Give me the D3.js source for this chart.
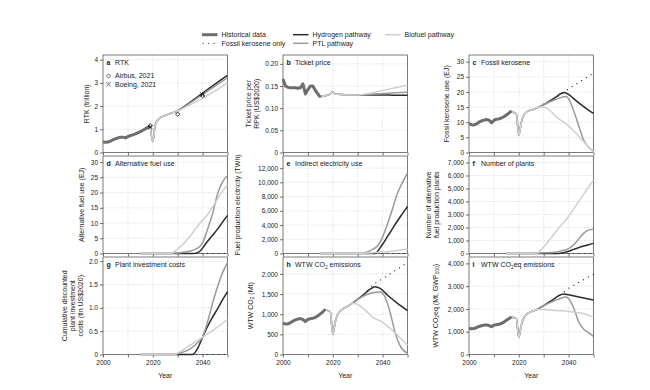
<!DOCTYPE html>
<html><head><meta charset="utf-8">
<script src="https://cdn.jsdelivr.net/npm/d3@7"></script>
<style>body{margin:0;background:#fff} text{font-family:"Liberation Sans",Arial,sans-serif;fill:#222}</style>
</head><body><svg id="c" width="650" height="390"></svg>
<script>
// ---------------- DATA ----------------
const histYears = [2000,2001,2002,2003,2004,2005,2006,2007,2008,2009,2010,2011,2012,2013,2014,2015,2016,2017,2018,2019];
const seriesNames = ["Historical data","Fossil kerosene only","Hydrogen pathway","PTL pathway","Biofuel pathway"];
const yearTickLabels = [2000,2020,2040];

// a RTK (trillion)
const rtkHist = [0.45,0.44,0.45,0.49,0.55,0.59,0.63,0.66,0.66,0.63,0.69,0.73,0.76,0.80,0.85,0.90,0.96,1.02,1.08,1.12];
const rtkCommonYears = [2019,2020,2021,2022,2023,2025,2027,2030];
const rtkCommon = [1.12,0.47,1.2,1.4,1.5,1.6,1.68,1.8];
const rtkPathYears = [2030,2035,2040,2045,2050];
const rtkHydrogen = [1.8,2.17,2.56,2.95,3.32];
const rtkPTL = [1.8,2.14,2.5,2.86,3.22];
const rtkBiofuel = [1.8,2.05,2.33,2.65,3.0];
const airbusYears = [2019,2030,2040];
const airbus = [1.15,1.65,2.45];
const boeingYears = [2019,2040];
const boeing = [1.1,2.5];

// b Ticket price
const priceHist = [0.166,0.150,0.147,0.146,0.146,0.146,0.145,0.146,0.155,0.132,0.142,0.150,0.150,0.140,0.132,0.125];
const priceCommonYears = [2015,2016,2017,2018,2019,2020,2021,2023,2026,2030];
const priceCommon = [0.125,0.127,0.128,0.130,0.132,0.137,0.132,0.131,0.130,0.130];
const pricePathYears = [2030,2035,2040,2045,2050];
const priceHydrogen = [0.130,0.130,0.130,0.129,0.129];
const pricePTL = [0.130,0.131,0.133,0.135,0.136];
const priceBiofuel = [0.130,0.134,0.140,0.146,0.152];

// c Fossil kerosene (EJ)
const kerHist = [9.5,9.2,9.1,9.4,10.0,10.4,10.7,10.9,10.7,9.8,10.6,11.0,11.1,11.4,11.8,12.4,13.0,13.7];
const kerCommonYears = [2017,2018,2019,2020,2021,2022,2023,2024,2026,2028];
const kerCommon = [13.7,13.2,12.8,5.8,10.0,12.3,13.3,13.8,14.3,15.0];
const kerFossilYears = [2028,2030,2035,2038,2040,2045,2050];
const kerFossil = [15,16,18.2,19.8,21,23.6,26.2];
const kerHydrogenYears = [2028,2030,2032,2035,2037,2038,2040,2042,2045,2048,2050];
const kerHydrogen = [15,15.8,16.8,18.4,19.5,19.8,19.2,17.8,15.8,14,12.9];
const kerPTLYears = [2028,2030,2032,2035,2038,2039,2040,2041,2043,2045,2046,2048,2050];
const kerPTL = [15,15.8,16.6,17.6,18.4,18.5,17.8,16,11.5,6.5,4.2,1.8,0.4];
const kerBiofuelYears = [2028,2030,2032,2035,2038,2040,2042,2044,2046,2048,2050];
const kerBiofuel = [15,15,14.2,11.8,10,8.8,7.2,5.4,3.6,1.8,0.2];

// d Alternative fuel use (EJ)
const altFossilYears = [2015,2050];
const altFossil = [0,0];
const altHydrogenYears = [2015,2036,2038,2039,2040,2042,2044,2046,2048,2050];
const altHydrogen = [0,0,0.3,0.8,1.8,4,6,8,10.3,12.5];
const altPTLYears = [2015,2027,2030,2035,2038,2039,2040,2042,2044,2046,2048,2050];
const altPTL = [0,0,0.2,0.8,1.8,2.4,3.5,8,13,19.5,23.5,25.5];
const altBiofuelYears = [2015,2027,2028,2030,2033,2036,2039,2042,2045,2048,2050];
const altBiofuel = [0,0,0.3,1.5,3.8,6.8,10,12.8,16.5,20.5,22.5];

// e Indirect electricity use (TWh)
const elecFossilYears = [2015,2050];
const elecFossil = [0,0];
const elecHydrogenYears = [2015,2037,2038,2040,2042,2044,2046,2048,2050];
const elecHydrogen = [0,0,300,1300,2400,3500,4600,5600,6600];
const elecPTLYears = [2015,2031,2033,2035,2038,2039,2040,2042,2044,2046,2048,2050];
const elecPTL = [0,0,100,400,1100,1600,2300,4200,6300,8500,10000,11300];
const elecBiofuelYears = [2015,2030,2035,2040,2045,2050];
const elecBiofuel = [0,0,60,200,400,600];

// f Number of plants
const plantFossilYears = [2015,2050];
const plantFossil = [0,0];
const plantHydrogenYears = [2015,2036,2038,2040,2042,2044,2046,2048,2050];
const plantHydrogen = [0,0,60,170,320,450,570,680,780];
const plantPTLYears = [2015,2025,2030,2035,2038,2040,2042,2044,2046,2048,2050];
const plantPTL = [0,0,50,120,250,380,650,1100,1550,1800,1870];
const plantBiofuelYears = [2015,2027,2028,2030,2033,2036,2040,2043,2046,2050];
const plantBiofuel = [0,0,100,500,1200,1950,2850,3700,4550,5650];

// g Plant investment costs (tln US$2020)
const invFossilYears = [2015,2050];
const invFossil = [0,0];
const invHydrogenYears = [2015,2036,2038,2040,2042,2044,2046,2048,2050];
const invHydrogen = [0,0,0.13,0.37,0.6,0.8,0.98,1.17,1.35];
const invPTLYears = [2015,2028,2030,2035,2038,2040,2042,2044,2046,2048,2050];
const invPTL = [0,0,0.02,0.12,0.25,0.38,0.7,1.1,1.45,1.75,1.97];
const invBiofuelYears = [2015,2029,2030,2035,2040,2045,2050];
const invBiofuel = [0,0,0.03,0.2,0.37,0.55,0.75];

// h WTW CO2 (Mt)
const co2Hist = [775,760,760,790,830,860,880,890,870,820,870,890,900,920,960,1010,1060,1125];
const co2CommonYears = [2017,2018,2019,2020,2021,2022,2023,2024,2026,2027];
const co2Common = [1110,1090,1060,500,820,1000,1080,1130,1200,1240];
const co2FossilYears = [2027,2030,2033,2036,2040,2045,2050];
const co2Fossil = [1240,1370,1530,1720,1880,2080,2280];
const co2HydrogenYears = [2027,2030,2033,2035,2037,2039,2042,2046,2050];
const co2Hydrogen = [1240,1370,1520,1620,1680,1640,1470,1270,1090];
const co2PTLYears = [2027,2030,2033,2036,2039,2040,2041,2043,2045,2047,2050];
const co2PTL = [1240,1370,1470,1530,1550,1520,1420,1050,550,220,30];
const co2BiofuelYears = [2027,2028,2030,2033,2036,2040,2045,2050];
const co2Biofuel = [1240,1270,1240,1100,930,800,540,230];

// i WTW CO2eq (Mt, GWP100)
const eqHist = [1150,1130,1140,1180,1230,1260,1290,1300,1270,1220,1290,1310,1330,1360,1420,1500,1570,1650];
const eqCommonYears = [2017,2018,2019,2020,2021,2022,2023,2024,2026,2027];
const eqCommon = [1640,1620,1580,750,1300,1600,1750,1830,1920,1960];
const eqFossilYears = [2027,2030,2034,2037,2040,2045,2050];
const eqFossil = [1960,2150,2420,2650,2900,3220,3520];
const eqHydrogenYears = [2027,2030,2033,2036,2038,2040,2044,2050];
const eqHydrogen = [1960,2150,2350,2580,2660,2620,2520,2390];
const eqPTLYears = [2027,2030,2033,2036,2039,2040,2042,2044,2046,2048,2050];
const eqPTL = [1960,2150,2300,2430,2520,2450,2050,1450,1120,960,800];
const eqBiofuelYears = [2027,2030,2035,2040,2045,2050];
const eqBiofuel = [1960,1970,1930,1890,1820,1640];

// ---------------- DRAWING ----------------
const svg = d3.select('#c');
const FONT = '"Liberation Sans",Arial,sans-serif';
const colX = [103,283,469], colW = 124.5;
const rowY = [55,156,257], rowH = 97.5;
const colors = {hist:'#6d6d6d', fossil:'#111', hydrogen:'#2b2b2b', ptl:'#9a9a9a', bio:'#d0d0d0'};
const pairs = (xs, ys) => xs.slice(0, ys.length).map((v,i)=>[v, ys[i]]);
const join = (a, b) => a.concat(b.slice(1));

const fmtComma = d3.format(',');
const panels = [
  {letter:'a', title:[['RTK']], col:0,row:0, ymax:4.2, ticks:[0,1,2,3,4], fmt:d=>d,
   ylab:[[['RTK (trillion)']]], yoff:[-17],
   hist:pairs(histYears, rtkHist),
   common:pairs(rtkCommonYears, rtkCommon),
   fossil:null,
   hydrogen:pairs(rtkPathYears, rtkHydrogen), ptl:pairs(rtkPathYears, rtkPTL), bio:pairs(rtkPathYears, rtkBiofuel)},
  {letter:'b', title:[['Ticket price']], col:1,row:0, ymax:0.22, ticks:[0,0.05,0.1,0.15,0.2], fmt:d=>d===0?'0':d.toFixed(2),
   ylab:[[['Ticket price per']],[['RPK (US$2020)']]], yoff:[-35,-27.5],
   hist:pairs(histYears, priceHist),
   common:pairs(priceCommonYears, priceCommon), fossil:null,
   hydrogen:pairs(pricePathYears, priceHydrogen), ptl:pairs(pricePathYears, pricePTL), bio:pairs(pricePathYears, priceBiofuel)},
  {letter:'c', title:[['Fossil kerosene']], col:2,row:0, ymax:32.2, ticks:[0,5,10,15,20,25,30], fmt:d=>d,
   ylab:[[['Fossil kerosene use (EJ)']]], yoff:[-23],
   hist:pairs(histYears, kerHist),
   common:pairs(kerCommonYears, kerCommon), fossil:pairs(kerFossilYears, kerFossil),
   hydrogen:pairs(kerHydrogenYears, kerHydrogen), ptl:pairs(kerPTLYears, kerPTL), bio:pairs(kerBiofuelYears, kerBiofuel)},
  {letter:'d', title:[['Alternative fuel use']], col:0,row:1, ymax:32, ticks:[0,5,10,15,20,25,30], fmt:d=>d,
   ylab:[[['Alternative fuel use (EJ)']]], yoff:[-22],
   hist:null, common:null, fossil:pairs(altFossilYears, altFossil),
   hydrogen:pairs(altHydrogenYears, altHydrogen), ptl:pairs(altPTLYears, altPTL), bio:pairs(altBiofuelYears, altBiofuel)},
  {letter:'e', title:[['Indirect electricity use']], col:1,row:1, ymax:13700, ticks:[0,2000,4000,6000,8000,10000,12000], fmt:d=>d===0?'0':fmtComma(d),
   ylab:[[['Fuel production electricity (TWh)']]], yoff:[-46],
   hist:null, common:null, fossil:pairs(elecFossilYears, elecFossil),
   hydrogen:pairs(elecHydrogenYears, elecHydrogen), ptl:pairs(elecPTLYears, elecPTL), bio:pairs(elecBiofuelYears, elecBiofuel)},
  {letter:'f', title:[['Number of plants']], col:2,row:1, ymax:7500, ticks:[0,1000,2000,3000,4000,5000,6000,7000], fmt:d=>d===0?'0':fmtComma(d),
   ylab:[[['Number of alternative']],[['fuel production plants']]], yoff:[-41,-33.5],
   hist:null, common:null, fossil:pairs(plantFossilYears, plantFossil),
   hydrogen:pairs(plantHydrogenYears, plantHydrogen), ptl:pairs(plantPTLYears, plantPTL), bio:pairs(plantBiofuelYears, plantBiofuel)},
  {letter:'g', title:[['Plant investment costs']], col:0,row:2, ymax:2.09, ticks:[0,0.5,1,1.5,2], fmt:d=>d===0?'0':d.toFixed(1),
   ylab:[[['Cumulative discounted']],[['plant investment']],[['costs (tln US$2020)']]], yoff:[-39,-31,-23],
   hist:null, common:null, fossil:pairs(invFossilYears, invFossil),
   hydrogen:pairs(invHydrogenYears, invHydrogen), ptl:pairs(invPTLYears, invPTL), bio:pairs(invBiofuelYears, invBiofuel)},
  {letter:'h', title:[['WTW CO'],['2',1],[' emissions']], col:1,row:2, ymax:2420, ticks:[0,500,1000,1500,2000], fmt:d=>d===0?'0':fmtComma(d),
   ylab:[[['WTW CO'],['2',1],[' (Mt)']]], yoff:[-33],
   hist:pairs(histYears, co2Hist),
   common:pairs(co2CommonYears, co2Common), fossil:pairs(co2FossilYears, co2Fossil),
   hydrogen:pairs(co2HydrogenYears, co2Hydrogen), ptl:pairs(co2PTLYears, co2PTL), bio:pairs(co2BiofuelYears, co2Biofuel)},
  {letter:'i', title:[['WTW CO'],['2',1],['eq emissions']], col:2,row:2, ymax:4280, ticks:[0,1000,2000,3000,4000], fmt:d=>d===0?'0':fmtComma(d),
   ylab:[[['WTW CO'],['2',1],['eq (Mt, GWP'],['100',1],[')']]], yoff:[-34],
   hist:pairs(histYears, eqHist),
   common:pairs(eqCommonYears, eqCommon), fossil:pairs(eqFossilYears, eqFossil),
   hydrogen:pairs(eqHydrogenYears, eqHydrogen), ptl:pairs(eqPTLYears, eqPTL), bio:pairs(eqBiofuelYears, eqBiofuel)}
];

function richText(sel, parts, size) {
  let shifted = false;
  parts.forEach(p => {
    const t = sel.append('tspan').text(p[0]);
    if (p[1]) { t.attr('font-size', size*0.7).attr('dy', size*0.25); shifted = true; }
    else if (shifted) { t.attr('dy', -size*0.25); shifted = false; }
  });
}

panels.forEach(cfg => {
  const x0 = colX[cfg.col], y0 = rowY[cfg.row];
  const x = d3.scaleLinear().domain([2000,2050]).range([x0, x0+colW]);
  const y = d3.scaleLinear().domain([0,cfg.ymax]).range([y0+rowH, y0]);
  const g = svg.append('g');

  // grid
  g.selectAll('line.gy').data(cfg.ticks.filter(t=>t>0)).join('line').attr('class','gy')
    .attr('x1',x0).attr('x2',x0+colW).attr('y1',d=>y(d)).attr('y2',d=>y(d))
    .attr('stroke','#c4c4c4').attr('stroke-width',0.6).attr('stroke-dasharray','1,1.5');
  g.selectAll('line.gx').data([2010,2020,2030,2040]).join('line').attr('class','gx')
    .attr('x1',d=>x(d)).attr('x2',d=>x(d)).attr('y1',y0).attr('y2',y0+rowH)
    .attr('stroke','#c4c4c4').attr('stroke-width',0.6).attr('stroke-dasharray','1,1.5');

  // axes
  const ya = g.append('g').attr('transform',`translate(${x0},0)`)
    .call(d3.axisLeft(y).tickValues(cfg.ticks).tickFormat(cfg.fmt).tickSize(3).tickPadding(2));
  const xa = g.append('g').attr('transform',`translate(0,${y0+rowH})`)
    .call(d3.axisBottom(x).tickValues([2000,2010,2020,2030,2040,2050])
      .tickFormat(d => (cfg.row===2 && yearTickLabels.includes(d)) ? d : '').tickSize(3).tickPadding(3));
  [ya, xa].forEach(a => {
    a.attr('font-family', FONT).attr('font-size', 6.5);
    a.select('.domain').remove();
    a.selectAll('line').attr('stroke','#333').attr('stroke-width',0.7);
    a.selectAll('text').attr('fill','#333');
  });

  // frame
  g.append('rect').attr('x',x0).attr('y',y0).attr('width',colW).attr('height',rowH)
    .attr('fill','none').attr('stroke','#444').attr('stroke-width',0.7);

  const line = d3.line().x(d=>x(d[0])).y(d=>y(d[1])).curve(d3.curveMonotoneX);
  const lineLin = d3.line().x(d=>x(d[0])).y(d=>y(d[1]));

  const withCommon = s => cfg.common ? join(cfg.common, s) : s;
  if (cfg.fossil) g.append('path').attr('d', line(cfg.fossil)).attr('fill','none')
    .attr('stroke',colors.fossil).attr('stroke-width',1.1).attr('stroke-linecap','round').attr('stroke-dasharray','0.1,5.5');
  [['hydrogen',colors.hydrogen],['ptl',colors.ptl],['bio',colors.bio]].forEach(([k,c]) => {
    g.append('path').attr('d', line(withCommon(cfg[k]))).attr('fill','none')
      .attr('stroke',c).attr('stroke-width',1.5);
  });
  if (cfg.hist) g.append('path').attr('d', lineLin(cfg.hist)).attr('fill','none')
    .attr('stroke',colors.hist).attr('stroke-width',3).attr('stroke-linejoin','round');

  // panel a markers
  if (cfg.letter==='a') {
    const dia = d3.symbol().type(d3.symbolSquare).size(9);
    const crs = d3.symbol().type(d3.symbolTimes).size(14);
    g.selectAll('path.ab').data(pairs(airbusYears, airbus)).join('path').attr('class','ab')
      .attr('d', dia).attr('transform', d=>`translate(${x(d[0])},${y(d[1])}) rotate(45)`)
      .attr('fill','none').attr('stroke','#111').attr('stroke-width',0.8);
    g.selectAll('path.bo').data(pairs(boeingYears, boeing)).join('path').attr('class','bo')
      .attr('d', crs).attr('transform', d=>`translate(${x(d[0])},${y(d[1])})`)
      .attr('fill','none').attr('stroke','#111').attr('stroke-width',0.8);
    g.append('path').attr('d', dia).attr('transform',`translate(${x0+5.5},${y0+21}) rotate(45)`)
      .attr('fill','none').attr('stroke','#333').attr('stroke-width',0.7);
    g.append('path').attr('d', crs).attr('transform',`translate(${x0+5.5},${y0+29.3})`)
      .attr('fill','none').attr('stroke','#333').attr('stroke-width',0.7);
    g.append('text').attr('x',x0+12).attr('y',y0+23.4).attr('font-size',7).text('Airbus, 2021');
    g.append('text').attr('x',x0+12).attr('y',y0+31.7).attr('font-size',7).text('Boeing, 2021');
  }

  // title
  g.append('text').attr('x',x0+3.5).attr('y',y0+10).attr('font-size',7).attr('font-weight','bold').text(cfg.letter);
  const tt = g.append('text').attr('x',x0+12).attr('y',y0+10).attr('font-size',7);
  richText(tt, cfg.title, 7);

  // y label
  const cy = y0 + rowH/2;
  cfg.ylab.forEach((parts,i) => {
    const t = g.append('text').attr('transform',`translate(${x0+cfg.yoff[i]},${cy}) rotate(-90)`)
      .attr('text-anchor','middle').attr('dominant-baseline','central').attr('font-size',7);
    richText(t, parts, 7);
  });

  if (cfg.row===2) {
    g.append('text').attr('x', x0+colW/2).attr('y', 377.5).attr('text-anchor','middle').attr('font-size',7).text('Year');
  }
});

// legend
const lg = svg.append('g').attr('font-size',7);
const legendItems = [
  {name:seriesNames[0], x:202, y:34.7, color:colors.hist, w:3, dash:null},
  {name:seriesNames[1], x:202, y:43.3, color:colors.fossil, w:1.1, dash:'0.1,5.5'},
  {name:seriesNames[2], x:293, y:34.7, color:colors.hydrogen, w:1.5, dash:null},
  {name:seriesNames[3], x:293, y:43.3, color:colors.ptl, w:1.5, dash:null},
  {name:seriesNames[4], x:385, y:34.7, color:colors.bio, w:1.5, dash:null}
];
legendItems.forEach(it => {
  const l = lg.append('line').attr('x1',it.x).attr('x2',it.x+15.5).attr('y1',it.y).attr('y2',it.y)
    .attr('stroke',it.color).attr('stroke-width',it.w);
  if (it.dash) l.attr('x1',it.x+1).attr('stroke-dasharray',it.dash).attr('stroke-linecap','round');
  lg.append('text').attr('x',it.x+19.5).attr('y',it.y+2.5).text(it.name);
});
</script>
</body></html>
